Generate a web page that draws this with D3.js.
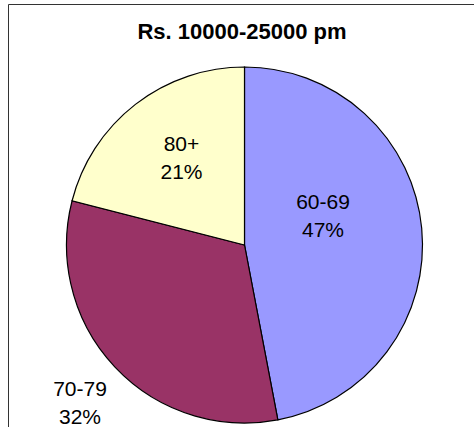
<!DOCTYPE html>
<html>
<head>
<meta charset="utf-8">
<script src="https://cdn.jsdelivr.net/npm/d3@7"></script>
<style>
  html, body { margin: 0; padding: 0; background: #fff; }
  svg { display: block; }
</style>
</head>
<body>
<svg id="chart" width="474" height="427"></svg>
<script>
// Age-group share, income band Rs. 10000-25000 per month
const title = "Rs. 10000-25000 pm";
const categories = ["60-69", "70-79", "80+"];
const shares = [47, 32, 21];
const sliceColors = ["#9999FF", "#993366", "#FFFFCC"];

const W = 474, H = 427;
const cx = 244.5, cy = 245, radius = 178;

// label anchor offsets from the pie centre (x = centre of text, y = first baseline)
const labelOffsets = [[78.5, -36], [-164.5, 150.5], [-63, -94.3]];
const lineGap = 28;

const svg = d3.select("#chart");

// chart frame
svg.append("path")
  .attr("d", `M8.5,${H} L8.5,4.5 L${W},4.5`)
  .attr("fill", "none")
  .attr("stroke", "#333")
  .attr("stroke-width", 1);

svg.append("text")
  .attr("x", 242)
  .attr("y", 39)
  .attr("text-anchor", "middle")
  .attr("font-family", "'Liberation Sans', Arial, sans-serif")
  .attr("font-weight", "bold")
  .attr("font-size", 22)
  .attr("fill", "#000")
  .text(title);

const data = categories.map((c, i) => ({ name: c, value: shares[i] }));
const pie = d3.pie().sort(null).value(d => d.value).startAngle(0).endAngle(2 * Math.PI);
const arc = d3.arc().innerRadius(0).outerRadius(radius);
const color = d3.scaleOrdinal().domain(categories).range(sliceColors);

const g = svg.append("g").attr("transform", `translate(${cx},${cy})`);

g.selectAll("path.slice")
  .data(pie(data))
  .join("path")
  .attr("class", "slice")
  .attr("d", arc)
  .attr("fill", d => color(d.data.name))
  .attr("stroke", "#000")
  .attr("stroke-width", 1.2);

const labels = g.selectAll("text.lbl")
  .data(pie(data))
  .join("text")
  .attr("class", "lbl")
  .attr("text-anchor", "middle")
  .attr("font-family", "'Liberation Sans', Arial, sans-serif")
  .attr("font-size", 21)
  .attr("fill", "#000");

labels.append("tspan")
  .attr("x", (d, i) => labelOffsets[i][0])
  .attr("y", (d, i) => labelOffsets[i][1])
  .text(d => d.data.name);

labels.append("tspan")
  .attr("x", (d, i) => labelOffsets[i][0])
  .attr("y", (d, i) => labelOffsets[i][1] + lineGap)
  .text(d => d.data.value + "%");
</script>
</body>
</html>
